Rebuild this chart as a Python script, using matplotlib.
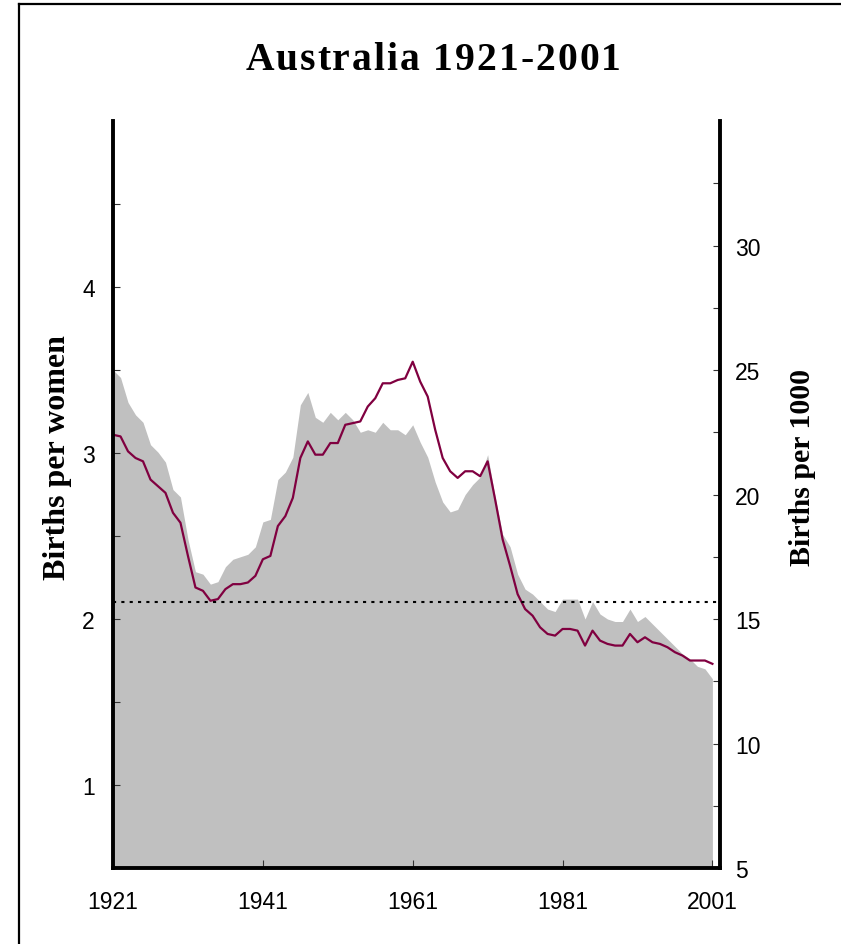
#!/usr/bin/env python3

import matplotlib.pyplot as plt
import numpy as np
from matplotlib.lines import Line2D

plt.rcParams.update({
    "font.family": "Liberation Sans",
    "xtick.labelsize": 16.5,
    "ytick.labelsize": 16.5,
})

# Data
years = list(range(1921, 2002))

# total fertility rate (left axis)
tfr = [3.11, 3.10, 3.01, 2.97, 2.95, 2.84, 2.80, 2.76, 2.64, 2.58,
       2.38, 2.19, 2.17, 2.11, 2.12, 2.18, 2.21, 2.21, 2.22, 2.26,
       2.36, 2.38, 2.56, 2.62, 2.73, 2.97, 3.07, 2.99, 2.99, 3.06,
       3.06, 3.17, 3.18, 3.19, 3.28, 3.33, 3.42, 3.42, 3.44, 3.45,
       3.55, 3.43, 3.34, 3.14, 2.97, 2.89, 2.85, 2.89, 2.89, 2.86,
       2.95, 2.72, 2.48, 2.32, 2.15, 2.06, 2.02, 1.95, 1.91, 1.90,
       1.94, 1.94, 1.93, 1.84, 1.93, 1.87, 1.85, 1.84, 1.84, 1.91,
       1.86, 1.89, 1.86, 1.85, 1.83, 1.80, 1.78, 1.75, 1.75, 1.75,
       1.73]

# crude birth rate (right axis)
cbr = [25.0, 24.7, 23.7, 23.2, 22.9, 22.0, 21.7, 21.3, 20.2, 19.9,
       18.2, 16.9, 16.8, 16.4, 16.5, 17.1, 17.4, 17.5, 17.6, 17.9,
       18.9, 19.0, 20.6, 20.9, 21.5, 23.6, 24.1, 23.1, 22.9, 23.3,
       23.0, 23.3, 23.0, 22.5, 22.6, 22.5, 22.9, 22.6, 22.6, 22.4,
       22.8, 22.1, 21.5, 20.5, 19.7, 19.3, 19.4, 20.0, 20.4, 20.7,
       21.6, 19.9, 18.4, 17.9, 16.8, 16.2, 16.0, 15.7, 15.4, 15.3,
       15.8, 15.8, 15.8, 15.0, 15.7, 15.2, 15.0, 14.9, 14.9, 15.4,
       14.9, 15.1, 14.8, 14.5, 14.2, 13.9, 13.6, 13.4, 13.1, 13.0,
       12.6]

replacement = 2.1
xticks = [1921, 1941, 1961, 1981, 2001]
title = "Australia 1921-2001"

line_color = '#800040'
fill_color = '#c0c0c0'

fig = plt.figure(figsize=(8.41, 9.45), dpi=100)
ax1 = fig.add_axes([0.1344, 0.0804, 0.7216, 0.7905])
ax2 = ax1.twinx()

# grey area on the right axis
ax2.fill_between(years, 0, cbr, color=fill_color, linewidth=0)
ax2.set_ylim(5, 35)
ax2.set_yticks(np.arange(5, 31, 5))
ax2.set_yticks(np.arange(7.5, 34, 2.5), minor=True)

# fertility line + replacement level on the left axis
ax1.plot(years, tfr, color=line_color, linewidth=1.6)
ax1.axhline(replacement, color='black', linewidth=1.5, linestyle=(0, (1.5, 2.5)))
ax1.set_ylim(0.5, 5)
ax1.set_yticks([1, 2, 3, 4])
ax1.set_yticks(np.arange(0.5, 5.0, 0.5), minor=True)
ax1.set_xlim(1921, 2002)
ax1.set_xticks(xticks)

ax1.set_zorder(ax2.get_zorder() + 1)
ax1.patch.set_visible(False)

# spines and ticks
for a in (ax1, ax2):
    a.spines['top'].set_visible(False)
    for s in ('left', 'right', 'bottom'):
        a.spines[s].set_linewidth(2.8)
ax2.spines['left'].set_visible(False)
ax2.spines['bottom'].set_visible(False)
ax1.spines['right'].set_visible(False)

ax1.tick_params(axis='y', which='both', direction='in', length=5, width=0.8,
                color='#333333', pad=13)
ax1.tick_params(axis='x', direction='in', length=6, width=0.8,
                color='#333333', pad=16)
ax2.tick_params(axis='y', which='both', direction='in', length=5, width=0.8,
                color='#333333', pad=11)

serif = "Liberation Serif"
fig.text(58 / 841, 1 - 458 / 945, "Births per women", rotation=90,
         ha='center', va='center', fontsize=23, fontweight='bold', family=serif)
fig.text(803 / 841, 1 - 468 / 945, "Births per 1000", rotation=90,
         ha='center', va='center', fontsize=21.5, fontweight='bold', family=serif)

# letter-spaced title: place each character after measuring the prefix
title_kw = dict(fontsize=28.5, fontweight='bold', family=serif, va='center')
spacing = 2.0  # px between letters
renderer = fig.canvas.get_renderer()
probe = fig.text(0, 0, title, **title_kw)
full_w = probe.get_window_extent(renderer).width
probe.remove()
total_w = full_w + spacing * (len(title) - 1)
x_start = 433 - total_w / 2
y_title = (1 - 61 / 945)
for i, ch in enumerate(title):
    if i == 0:
        prefix_w = 0.0
    else:
        p = fig.text(0, 0, title[:i] + "|", **title_kw)
        bar = fig.text(0, 0, "|", **title_kw)
        prefix_w = (p.get_window_extent(renderer).width
                    - bar.get_window_extent(renderer).width)
        p.remove()
        bar.remove()
    fig.text((x_start + prefix_w + i * spacing) / 841, y_title, ch, ha='left', **title_kw)

# frame around the figure (left and top edges)
x0, y0 = 19 / 841, 1 - 5 / 945
fig.add_artist(Line2D([x0, x0], [y0, 0], transform=fig.transFigure,
                      color='black', linewidth=1.6))
fig.add_artist(Line2D([x0, 1], [y0, y0], transform=fig.transFigure,
                      color='black', linewidth=1.6))

plt.savefig("out.png", dpi=100)
